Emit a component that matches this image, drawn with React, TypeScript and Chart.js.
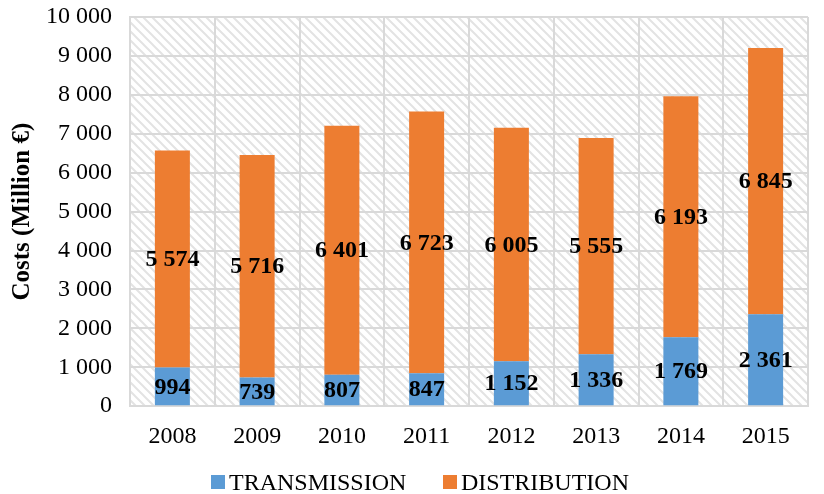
import React, { useEffect, useRef } from "react";
import { Chart, registerables } from "chart.js";

Chart.register(...registerables);

const years = ["2008", "2009", "2010", "2011", "2012", "2013", "2014", "2015"];
const transmission = [994, 739, 807, 847, 1152, 1336, 1769, 2361];
const distribution = [5574, 5716, 6401, 6723, 6005, 5555, 6193, 6845];
const yTicks = [0, 1000, 2000, 3000, 4000, 5000, 6000, 7000, 8000, 9000, 10000];
const seriesNames = ["TRANSMISSION", "DISTRIBUTION"];
const seriesColors = ["#5B9BD5", "#ED7D31"];

const fmt = (v: number) => String(v).replace(/\B(?=(\d{3})+(?!\d))/g, " ");

const FONT = "'Liberation Serif', 'Times New Roman', serif";

const hatchPlugin = {
  id: "hatch",
  beforeDraw(chart: any) {
    const { ctx, chartArea } = chart;
    if (!chartArea) return;
    const p = document.createElement("canvas");
    const s = 9;
    p.width = s;
    p.height = s;
    const pc = p.getContext("2d")!;
    pc.strokeStyle = "#e3e3e3";
    pc.lineWidth = 2;
    pc.beginPath();
    pc.moveTo(0, 0);
    pc.lineTo(s, s);
    pc.moveTo(-s, 0);
    pc.lineTo(s, 2 * s);
    pc.moveTo(0, -s);
    pc.lineTo(2 * s, s);
    pc.stroke();
    const pattern = ctx.createPattern(p, "repeat");
    ctx.save();
    ctx.fillStyle = pattern;
    ctx.fillRect(chartArea.left, chartArea.top, chartArea.right - chartArea.left, chartArea.bottom - chartArea.top);
    ctx.restore();
  },
};

const labelPlugin = {
  id: "barLabels",
  afterDatasetsDraw(chart: any) {
    const { ctx } = chart;
    ctx.save();
    ctx.font = `bold 24px ${FONT}`;
    ctx.fillStyle = "#000";
    ctx.textAlign = "center";
    ctx.textBaseline = "middle";
    chart.data.datasets.forEach((ds: any, di: number) => {
      const meta = chart.getDatasetMeta(di);
      meta.data.forEach((bar: any, i: number) => {
        const y = (bar.y + bar.base) / 2;
        ctx.fillText(fmt(ds.data[i]), bar.x, y + 1);
      });
    });
    ctx.restore();
  },
};

const legendPlugin = {
  id: "customLegend",
  afterDraw(chart: any) {
    const { ctx } = chart;
    ctx.save();
    ctx.font = `24px ${FONT}`;
    ctx.textBaseline = "middle";
    ctx.textAlign = "left";
    const starts = [211, 443];
    const y = 483;
    seriesNames.forEach((name, i) => {
      ctx.fillStyle = seriesColors[i];
      ctx.fillRect(starts[i], y - 8, 14, 14);
      ctx.fillStyle = "#000";
      ctx.fillText(name, starts[i] + 18, y + 1);
    });
    ctx.restore();
  },
};

export default function App() {
  const ref = useRef<HTMLCanvasElement>(null);
  useEffect(() => {
    document.body.style.margin = "0";
    const chart = new Chart(ref.current!, {
      type: "bar",
      data: {
        labels: years,
        datasets: seriesNames.map((name, i) => ({
          label: name,
          data: i === 0 ? transmission : distribution,
          backgroundColor: seriesColors[i],
          barPercentage: 0.413,
          categoryPercentage: 1,
        })),
      },
      options: {
        animation: false,
        responsive: false,
        maintainAspectRatio: false,
        layout: { padding: { left: 4, right: 16, top: 17, bottom: 27 } },
        plugins: {
          tooltip: { enabled: false },
          legend: { display: false },
        },
        scales: {
          x: {
            stacked: true,
            grid: { color: "#d9d9d9", lineWidth: 2, offset: true, drawTicks: false },
            border: { color: "#d9d9d9", width: 2 },
            ticks: { color: "#000", font: { family: FONT, size: 24 }, padding: 16 },
            afterFit: (s: any) => {
              s.paddingLeft = 0;
              s.paddingRight = 0;
            },
          },
          y: {
            stacked: true,
            min: 0,
            max: 10000,
            afterBuildTicks: (axis: any) => {
              axis.ticks = yTicks.map((v) => ({ value: v }));
            },
            afterFit: (s: any) => {
              s.width = 126;
              s.paddingTop = 0;
              s.paddingBottom = 0;
            },
            grid: { color: "#d9d9d9", lineWidth: 2, drawTicks: false },
            border: { color: "#d9d9d9", width: 2 },
            ticks: {
              color: "#000",
              font: { family: FONT, size: 24 },
              padding: 18,
              callback: (v: any) => fmt(Number(v)),
            },
            title: {
              display: true,
              text: "Costs (Million €)",
              color: "#000",
              font: { family: FONT, size: 25, weight: "bold" },
              padding: { top: 4, bottom: 8 },
            },
          },
        },
      },
      plugins: [hatchPlugin, labelPlugin, legendPlugin],
    });
    return () => chart.destroy();
  }, []);
  return (
    <div style={{ position: "absolute", left: 0, top: 0, width: 824, height: 494 }}>
      <canvas ref={ref} width={824} height={494} style={{ width: 824, height: 494 }} />
    </div>
  );
}
